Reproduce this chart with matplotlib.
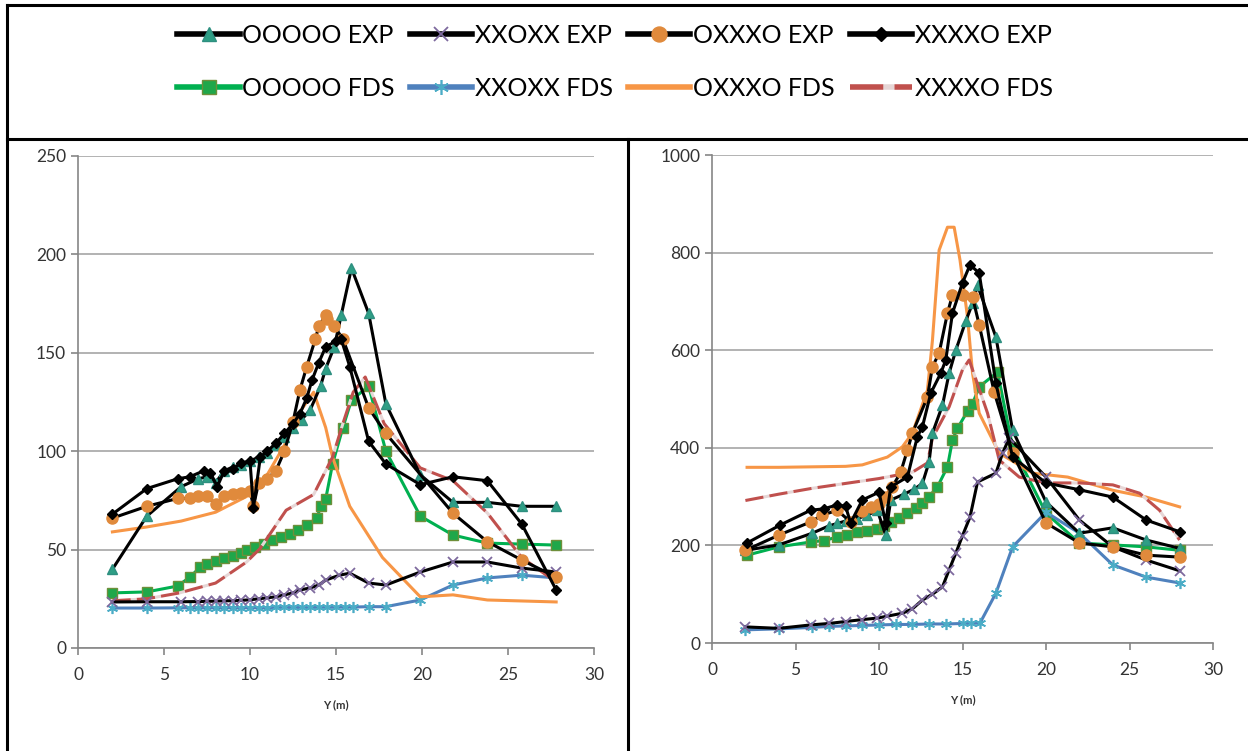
import matplotlib
matplotlib.use("Agg")
from matplotlib import pyplot as plt
from matplotlib.lines import Line2D

plt.rcParams["font.family"] = ["Lato", "DejaVu Sans"]

# ---------------- left panel ----------------
L_ooooo_exp_x = [2, 4, 6, 7, 7.5, 8, 8.5, 9, 9.5, 10, 10.5, 11, 11.5, 12, 12.5, 13, 13.5, 14.1, 14.4,
                 14.9, 15.3, 15.9, 16.9, 17.9, 19.9, 21.8, 23.8, 25.8, 27.8]
L_ooooo_exp_y = [40, 67, 82, 86, 87, 84, 90, 92, 93, 95, 97, 99, 103, 107, 112, 116, 121, 133, 142,
                 153, 169, 193, 170, 124, 88, 74, 74, 72, 72]

L_xxoxx_exp_x = [2, 4, 6, 7, 7.5, 8, 8.5, 9, 9.5, 10, 10.5, 11, 11.5, 12, 12.5, 12.9, 13.5, 14, 14.4,
                 15.2, 15.8, 16.9, 17.9, 19.9, 21.8, 23.8, 25.8, 27.8]
L_xxoxx_exp_y = [23.4, 23.5, 23.5, 23.6, 23.7, 23.8, 24, 24, 24.2, 24.5, 25, 25.5, 26, 27, 28, 29.5,
                 30.5, 32, 34.5, 37, 38, 33, 32, 38.6, 43.7, 43.7, 40.6, 38.6]

L_oxxxo_exp_x = [2, 4, 5.8, 6.5, 7, 7.5, 8, 8.5, 9, 9.5, 10, 10.2, 10.5, 11, 11.5, 12, 12.5, 12.9, 13.3,
                 13.8, 14, 14.4, 14.5, 14.9, 15.4, 16.9, 17.9, 21.8, 23.8, 25.8, 27.8]
L_oxxxo_exp_y = [66, 72, 76, 76, 77, 77, 73, 77, 78, 79, 80, 72, 84, 86, 90, 100, 115, 131, 143,
                 157, 163.5, 169, 167, 163.5, 157, 122, 109, 68.5, 54, 44.7, 36]

L_xxxxo_exp_x = [2, 4, 5.8, 6.5, 7.3, 7.7, 8.1, 8.5, 9, 9.5, 10, 10.2, 10.6, 11, 11.5, 12, 12.5, 12.9,
                 13.3, 13.6, 14, 14.4, 15, 15.3, 15.8, 16.9, 17.9, 19.9, 21.8, 23.8, 25.8, 27.8]
L_xxxxo_exp_y = [68, 81, 86, 87, 90, 89, 82, 90, 91, 94, 95, 71, 97, 100, 104, 109, 114, 119,
                 127, 136, 145, 153, 156, 157, 143, 105, 93.5, 83, 87, 85, 63, 29.5]

L_ooooo_fds_x = [2, 4, 5.8, 6.5, 7.1, 7.5, 8, 8.5, 9, 9.5, 9.8, 10.3, 10.8, 11.3, 11.8, 12.3, 12.8, 13.3,
                 13.9, 14.1, 14.4, 14.8, 15.4, 15.9, 16.9, 17.9, 19.9, 21.8, 23.8, 25.8, 27.8]
L_ooooo_fds_y = [28, 28.5, 31.5, 36, 41, 42.5, 44, 45.5, 47, 48.5, 50, 51.5, 53, 55, 56.5, 58, 60, 62.5,
                 66, 72, 75.7, 93.5, 112, 126, 133, 100, 67, 57.4, 53.3, 52.8, 52.3]

L_xxoxx_fds_x = [2, 4, 5.8, 6.5, 7, 7.5, 8, 8.5, 9, 9.5, 10, 10.5, 11, 11.5, 12, 12.5, 13, 13.5, 14,
                 14.5, 15, 15.5, 16, 16.9, 17.9, 19.9, 21.8, 23.8, 25.8, 27.8]
L_xxoxx_fds_y = [20.3, 20.3, 20.4, 20.4, 20.4, 20.4, 20.5, 20.5, 20.5, 20.5, 20.5, 20.5, 20.5, 20.6,
                 20.6, 20.6, 20.6, 20.6, 20.7, 20.7, 20.7, 20.8, 20.8, 21, 21, 24.4, 32, 35.6, 37, 35.6]

L_oxxxo_fds_x = [2, 4, 6, 8, 9.8, 11, 12, 12.9, 13.7, 14.4, 14.8, 15.8, 17.7, 19.9, 21.8, 23.8, 27.8]
L_oxxxo_fds_y = [59, 61.5, 64.5, 69, 77, 88, 103, 120, 130, 112, 97, 72, 46, 26, 27, 24.4, 23.4]

L_xxxxo_fds_x = [2, 4, 5.9, 8, 9.8, 10.6, 12.1, 13.7, 14.8, 15.4, 16, 16.7, 17.8, 19.9, 21.8, 23.8,
                 25.8, 27.8]
L_xxxxo_fds_y = [24, 25, 28, 33, 43.7, 50.7, 70, 78, 97, 114, 130, 137.7, 114, 91.5, 85, 68.6, 46, 33.5]

# ---------------- right panel ----------------
R_ooooo_exp_x = [2, 4, 6, 7, 7.5, 8, 8.7, 9.3, 9.9, 10.4, 10.7, 11.5, 12.1, 12.6, 13, 13.2, 13.8, 14.2,
                 14.6, 15.2, 15.6, 15.9, 17, 18, 20, 22, 24, 26, 28]
R_ooooo_exp_y = [190, 201, 225, 240, 245, 250, 255, 262, 272, 221, 293, 305, 315, 327, 371, 430, 487,
                 553, 600, 660, 696, 733, 627, 436, 289, 225, 236, 211, 194]

R_xxoxx_exp_x = [2, 4, 5.9, 7, 8, 9, 9.9, 10.5, 11.4, 12, 12.6, 13.2, 13.8, 14.2, 14.6, 15, 15.45,
                 15.9, 17, 17.4, 17.8, 20, 22, 24, 26, 28]
R_xxoxx_exp_y = [33, 30, 37, 40, 44, 48, 51, 55, 61, 70, 88, 100, 115, 150, 184, 220, 258,
                 330, 348, 389, 420, 340, 252, 197, 170, 148]

R_oxxxo_exp_x = [2, 4, 5.9, 6.6, 7.5, 8.3, 9, 9.5, 10, 10.4, 10.8, 11.3, 11.7, 12, 12.9, 13.2, 13.6,
                 14.1, 14.4, 15, 15.6, 16, 16.9, 18, 20, 22, 24, 26, 28]
R_oxxxo_exp_y = [190, 221, 248, 262, 272, 248, 270, 279, 285, 300, 320, 350, 395, 430, 504, 566, 594,
                 676, 713, 713, 709, 652, 514, 389, 246, 205, 197, 180, 176]

R_xxxxo_exp_x = [2.1, 4.1, 5.9, 6.7, 7.5, 8, 8.3, 9, 10, 10.4, 10.7, 11.7, 12.3, 12.6, 13.1, 13.7, 14,
                 14.4, 15, 15.45, 16, 17, 18, 20, 22, 24, 26, 28]
R_xxxxo_exp_y = [205, 242, 272, 275, 283, 280, 246, 293, 309, 246, 320, 340, 423, 443, 512, 553, 580,
                 676, 738, 775, 758, 532, 381, 328, 314, 299, 252, 228]

R_ooooo_fds_x = [2.1, 4, 5.9, 6.7, 7.5, 8.1, 8.7, 9.3, 9.9, 10.3, 10.7, 11.2, 11.7, 12.2, 12.6, 13,
                 13.5, 14.1, 14.4, 14.7, 15.3, 15.6, 16, 17.1, 18, 20, 22, 24, 26, 28]
R_ooooo_fds_y = [180, 197, 207, 210, 217, 222, 227, 230, 234, 240, 248, 257, 266, 276, 287, 300,
                 320, 361, 416, 440, 475, 490, 525, 555, 402, 266, 205, 201, 197, 190]

R_xxoxx_fds_x = [2, 4, 6, 7, 8, 9, 10, 11, 12, 13, 14, 15, 15.5, 16.05, 17, 18, 20, 22, 24, 26, 28]
R_xxoxx_fds_y = [27, 29, 32, 34, 35, 36, 37, 38, 38, 39, 39, 40, 40, 41, 102, 197, 268, 225, 160, 135, 123]

R_oxxxo_fds_x = [2.1, 4, 6, 8, 9, 10.5, 11.4, 12, 12.9, 13.2, 13.6, 14.1, 14.5, 14.85, 15.3, 15.6, 16,
                 17.2, 19.2, 21.3, 24, 26, 28]
R_oxxxo_fds_y = [360, 360, 361, 362, 365, 381, 402, 430, 518, 620, 805, 852, 852, 785, 668, 553, 471,
                 389, 348, 340, 313, 299, 279]

R_xxxxo_fds_x = [2, 4, 6, 8, 10, 12, 12.9, 13.2, 14.2, 15, 15.4, 16.5, 17.2, 18.4, 20, 22, 24, 25.6,
                 26.8, 28]
R_xxxxo_fds_y = [292, 305, 317, 327, 337, 350, 369, 420, 484, 560, 580, 471, 375, 340, 328, 328, 324,
                 307, 272, 211]

labels = ["OOOOO EXP", "XXOXX EXP", "OXXXO EXP", "XXXXO EXP",
          "OOOOO FDS", "XXOXX FDS", "OXXXO FDS", "XXXXO FDS"]

W, H = 1248, 751
fig = plt.figure(figsize=(W / 100, H / 100), dpi=100)


def draw_panel(ax, d, ymax, ystep):
    # FDS first, experiments on top
    h = {}
    h["OOOOO FDS"], = ax.plot(d[4][0], d[4][1], color="#00B050", lw=2.2, marker="s", ms=7,
                              mfc="#1FA74A", mec="#6E8F3A", mew=1)
    h["XXOXX FDS"], = ax.plot(d[5][0], d[5][1], color="#4F81BD", lw=2.2, marker=(6, 2, 0), ms=8,
                              mec="#4BACC6", mew=1.2)
    h["OXXXO FDS"], = ax.plot(d[6][0], d[6][1], color="#F79646", lw=2.2)
    h["XXXXO FDS"], = ax.plot(d[7][0], d[7][1], color="#C0504D", lw=2.2, ls=(0, (6, 2)),
                              gapcolor="#E6D6D6")
    h["OOOOO EXP"], = ax.plot(d[0][0], d[0][1], color="black", lw=2.2, marker="^", ms=7,
                              mfc="#2E9F85", mec="#2E8F80", mew=1)
    h["XXOXX EXP"], = ax.plot(d[1][0], d[1][1], color="black", lw=2.2, marker="x", ms=7,
                              mec="#7E6A9E", mew=1.3)
    h["OXXXO EXP"], = ax.plot(d[2][0], d[2][1], color="black", lw=2.2, marker="o", ms=8,
                              mfc="#E08A3C", mec="#E08A3C")
    h["XXXXO EXP"], = ax.plot(d[3][0], d[3][1], color="black", lw=2.2, marker="D", ms=5.5,
                              mfc="black", mec="black")
    ax.set_xlim(0, 30)
    ax.set_ylim(0, ymax)
    ax.set_xticks(range(0, 31, 5))
    ax.set_yticks(range(0, ymax + 1, ystep))
    ax.grid(axis="y", color="#A6A6A6", lw=1.2)
    ax.set_axisbelow(True)
    for s in ["top", "right"]:
        ax.spines[s].set_visible(False)
    for s in ["left", "bottom"]:
        ax.spines[s].set_color("#868686")
        ax.spines[s].set_linewidth(1.2)
    ax.tick_params(colors="#868686", labelcolor="#333333", labelsize=12.5, length=5, width=1.2)
    ax.tick_params(axis="x", pad=9)
    ax.set_xlabel("Y (m)", fontsize=8, fontweight="bold", color="#333333", labelpad=11)
    return h


left_data = [(L_ooooo_exp_x, L_ooooo_exp_y), (L_xxoxx_exp_x, L_xxoxx_exp_y),
             (L_oxxxo_exp_x, L_oxxxo_exp_y), (L_xxxxo_exp_x, L_xxxxo_exp_y),
             (L_ooooo_fds_x, L_ooooo_fds_y), (L_xxoxx_fds_x, L_xxoxx_fds_y),
             (L_oxxxo_fds_x, L_oxxxo_fds_y), (L_xxxxo_fds_x, L_xxxxo_fds_y)]
right_data = [(R_ooooo_exp_x, R_ooooo_exp_y), (R_xxoxx_exp_x, R_xxoxx_exp_y),
              (R_oxxxo_exp_x, R_oxxxo_exp_y), (R_xxxxo_exp_x, R_xxxxo_exp_y),
              (R_ooooo_fds_x, R_ooooo_fds_y), (R_xxoxx_fds_x, R_xxoxx_fds_y),
              (R_oxxxo_fds_x, R_oxxxo_fds_y), (R_xxxxo_fds_x, R_xxxxo_fds_y)]

ax1 = fig.add_axes([78 / W, 1 - 648 / H, (594 - 78) / W, (648 - 156) / H])
ax2 = fig.add_axes([712 / W, 1 - 643 / H, (1213 - 712) / W, (643 - 155) / H])
handles = draw_panel(ax1, left_data, 250, 50)
draw_panel(ax2, right_data, 1000, 200)

# legend: 4 columns x 2 rows, filled column by column
order = []
for i in range(4):
    order += [labels[i], labels[i + 4]]
leg = fig.legend([handles[k] for k in order], order, ncol=4, loc="center",
                 bbox_to_anchor=(615 / W, 1 - 62 / H), frameon=False, fontsize=18,
                 handlelength=2.5, handletextpad=0.1, columnspacing=0.6, labelspacing=1.2)
for line in leg.get_lines():
    line.set_linewidth(4)
    line.set_markersize(line.get_markersize() * 1.35)

# table borders
def fline(x0, y0, x1, y1):
    fig.add_artist(Line2D([x0 / W, x1 / W], [1 - y0 / H, 1 - y1 / H], color="black", lw=2.2,
                          transform=fig.transFigure))


fline(7, 5, 1248, 5)
fline(7, 5, 7, 751)
fline(7, 139, 1248, 139)
fline(628, 139, 628, 751)

fig.savefig("out.png", dpi=100)
